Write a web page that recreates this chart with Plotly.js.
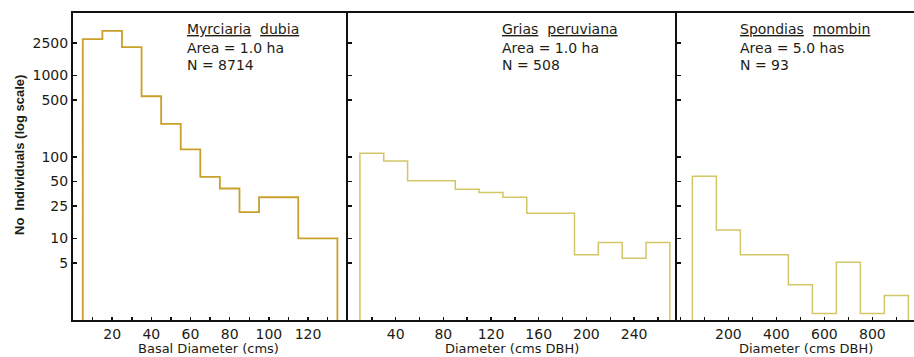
<!DOCTYPE html>
<html>
<head>
<meta charset="utf-8">
<script src="https://cdn.plot.ly/plotly-3.0.1.min.js"></script>
<style>html,body{margin:0;padding:0;background:#fff;overflow:hidden}</style>
</head>
<body>
<div id="chart" style="width:914px;height:357px"></div>
<script>
// ---- Data ----
// Panel 1: Myrciaria dubia, basal diameter (cm) bin edges and counts
const p1Edges = [5, 15, 25, 35, 45, 55, 65, 75, 85, 95, 115, 135];
const p1Counts = [2780, 3520, 2220, 555, 254, 124, 57, 41, 21, 32, 10];
// Panel 2: Grias peruviana, diameter (cm DBH)
const p2Edges = [10, 30, 50, 90, 110, 130, 150, 190, 210, 230, 250, 270];
const p2Counts = [111, 89, 51, 40, 36.5, 32, 20.4, 6.3, 8.9, 5.7, 8.9];
// Panel 3: Spondias mombin, diameter (cm DBH)
const p3Edges = [50, 150, 250, 450, 550, 650, 750, 850, 950];
const p3Counts = [58, 12.7, 6.3, 2.7, 1.2, 5.1, 1.2, 2.0];

// Tick labels
const yTickVals = [5, 10, 25, 50, 100, 500, 1000, 2500];
const yTickText = ['5', '10', '25', '50', '100', '500', '1000', '2500'];
const x1TickVals = [20, 40, 60, 80, 100, 120];
const x2TickVals = [40, 80, 120, 160, 200, 240];
const x3TickVals = [200, 400, 600, 800];

const species = ['Myrciaria', 'dubia', 'Grias', 'peruviana', 'Spondias', 'mombin'];
const areas = ['Area = 1.0 ha', 'Area = 1.0 ha', 'Area = 5.0 has'];
const nTexts = ['N = 8714', 'N = 508', 'N = 93'];
const xTitles = ['Basal Diameter (cms)', 'Diameter (cms DBH)', 'Diameter (cms DBH)'];
const yTitle = 'No  Individuals (log scale)';

// ---- build step outlines ----
function steps(edges, counts) {
  const x = [edges[0]], y = [1];
  for (let i = 0; i < counts.length; i++) {
    x.push(edges[i], edges[i + 1]);
    y.push(counts[i], counts[i]);
  }
  x.push(edges[edges.length - 1]); y.push(1);
  return {x, y};
}

const s1 = steps(p1Edges, p1Counts), s2 = steps(p2Edges, p2Counts), s3 = steps(p3Edges, p3Counts);
const traces = [
  {x: s1.x, y: s1.y, xaxis: 'x', yaxis: 'y', mode: 'lines', line: {color: '#c9a02a', width: 1.8}, hoverinfo: 'skip'},
  {x: s2.x, y: s2.y, xaxis: 'x2', yaxis: 'y2', mode: 'lines', line: {color: '#d2c766', width: 1.5}, hoverinfo: 'skip'},
  {x: s3.x, y: s3.y, xaxis: 'x3', yaxis: 'y3', mode: 'lines', line: {color: '#d2c766', width: 1.5}, hoverinfo: 'skip'}
];

// ---- layout ----
const W = 914, L = 73, PW = W - L;
const px = v => (v - L) / PW;
const d1 = px(348), d2 = px(677);
const tickFont = {family: 'DejaVu Sans', size: 14, color: '#1c1c14'};
const baseX = {
  showline: true, linewidth: 2, linecolor: '#111', mirror: true,
  ticks: 'inside', ticklen: 3, tickwidth: 1.5, tickcolor: '#111',
  showgrid: false, zeroline: false, tickfont: tickFont, tickmode: 'array',
  fixedrange: true
};
const baseY = {
  type: 'log', range: [0, 3.765], showline: true, linewidth: 2, linecolor: '#111',
  ticks: 'inside', ticklen: 4, tickwidth: 1.5, tickcolor: '#111',
  showgrid: false, zeroline: false, tickmode: 'array', tickvals: yTickVals,
  ticktext: yTickText, tickfont: {family: 'DejaVu Sans', size: 14, color: '#1c1c14'},
  ticklabelstandoff: 0, fixedrange: true, mirror: false
};

const annFont = {family: 'DejaVu Sans', size: 14, color: '#1e1e16'};
function panelText(xLeft, names, area, n) {
  return [
    {xref: 'paper', yref: 'paper', x: px(xLeft), y: (320 - 29) / 307, xanchor: 'left', yanchor: 'middle',
     text: '<u>' + names[0] + '</u>  <u>' + names[1] + '</u>', showarrow: false, font: annFont},
    {xref: 'paper', yref: 'paper', x: px(xLeft), y: (320 - 48) / 307, xanchor: 'left', yanchor: 'middle',
     text: area, showarrow: false, font: annFont},
    {xref: 'paper', yref: 'paper', x: px(xLeft), y: (320 - 65) / 307, xanchor: 'left', yanchor: 'middle',
     text: n, showarrow: false, font: annFont}
  ];
}
const titleFont = {family: 'DejaVu Sans', size: 13, color: '#1c1c14'};
const annotations = [].concat(
  panelText(185, [species[0], species[1]], areas[0], nTexts[0]),
  panelText(500, [species[2], species[3]], areas[1], nTexts[1]),
  panelText(738, [species[4], species[5]], areas[2], nTexts[2]),
  [
    {xref: 'paper', yref: 'paper', x: px(208), y: 0, yshift: -28, xanchor: 'center', yanchor: 'middle',
     text: xTitles[0], showarrow: false, font: titleFont},
    {xref: 'paper', yref: 'paper', x: px(512), y: 0, yshift: -28, xanchor: 'center', yanchor: 'middle',
     text: xTitles[1], showarrow: false, font: titleFont},
    {xref: 'paper', yref: 'paper', x: px(806), y: 0, yshift: -28, xanchor: 'center', yanchor: 'middle',
     text: xTitles[2], showarrow: false, font: titleFont},
    {xref: 'paper', yref: 'paper', x: 0, xshift: 19 - L, y: (320 - 155) / 307, xanchor: 'center', yanchor: 'middle',
     textangle: -90, text: '<b>' + yTitle + '</b>', showarrow: false,
     font: {family: 'Liberation Sans', size: 13, color: '#1c1c14'}}
  ]
);

const layout = {
  width: W, height: 357,
  margin: {l: L, r: 0, t: 13, b: 37},
  paper_bgcolor: '#fff', plot_bgcolor: '#fff',
  showlegend: false,
  xaxis: Object.assign({}, baseX, {domain: [0, d1], range: [0, 140.4], anchor: 'y',
    tickvals: x1TickVals, minor: {tickmode: 'linear', tick0: 0, dtick: 10, ticks: 'inside', ticklen: 3, tickwidth: 1.5, tickcolor: '#111'}}),
  xaxis2: Object.assign({}, baseX, {domain: [d1, d2], range: [0, 276], anchor: 'y2',
    tickvals: x2TickVals, minor: {tickmode: 'linear', tick0: 0, dtick: 20, ticks: 'inside', ticklen: 3, tickwidth: 1.5, tickcolor: '#111'}}),
  xaxis3: Object.assign({}, baseX, {domain: [d2, 1], range: [-14, 973.5], anchor: 'y3',
    tickvals: x3TickVals, minor: {tickmode: 'linear', tick0: 0, dtick: 100, ticks: 'inside', ticklen: 3, tickwidth: 1.5, tickcolor: '#111'}}),
  yaxis: Object.assign({}, baseY, {anchor: 'x'}),
  yaxis2: Object.assign({}, baseY, {anchor: 'x2', showticklabels: false}),
  yaxis3: Object.assign({}, baseY, {anchor: 'x3', showticklabels: false}),
  annotations: annotations
};

Plotly.newPlot('chart', traces, layout, {displayModeBar: false, staticPlot: true});
</script>
</body>
</html>
